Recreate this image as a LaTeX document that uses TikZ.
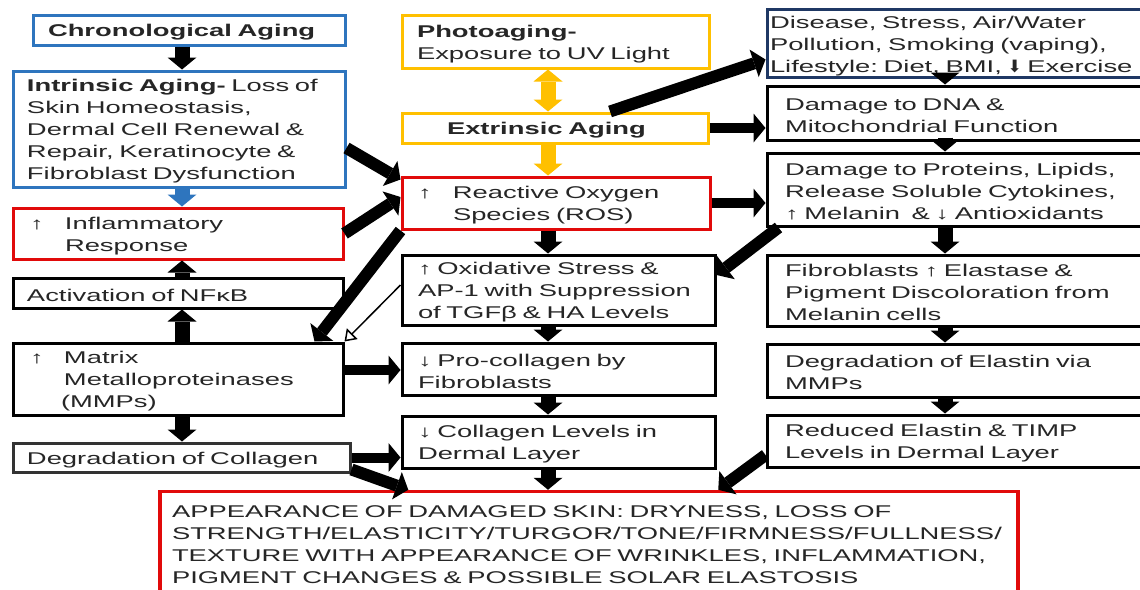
\documentclass[tikz,border=0pt]{standalone}
\usepackage{fontspec}
\setmainfont{Liberation Sans}[FakeStretch=1.61]
\newfontfamily\arrowfont{DejaVu Sans}
\usepackage{tikz}
\usetikzlibrary{arrows.meta, calc}
\frenchspacing

\definecolor{agblue}{RGB}{46,117,190}
\definecolor{aggold}{RGB}{255,192,0}
\definecolor{agred}{RGB}{225,10,10}
\definecolor{agnavy}{RGB}{31,56,100}

\tikzset{
    base/.style={draw=black, line width=3pt, align=left, text=black!85,
        inner ysep=2pt, font=\fontsize{17}{22}\selectfont},
    box/.style={base, execute at begin node={\rule{0pt}{17pt}}},
    >={Triangle[length=12pt, width=29pt, line width=0pt]},
    fat/.style={line width=12pt, ->},
    vfat/.style={line width=15pt, ->},
    hfat/.style={line width=10pt, ->},
    hollow/.style={line width=1.5pt, -{Triangle[open, length=11pt, width=15pt]}}
}

\begin{document}
\begin{tikzpicture}[x=1pt, y=-1pt]
        \path[use as bounding box, fill=white] (0,0) rectangle (1140,589);

        \node[box, draw=agblue, text width=282pt, inner xsep=15pt, minimum height=30pt] at (189, 30) (chrono) {\textbf{Chronological Aging}};
        \node[box, draw=agblue, text width=304pt, inner xsep=14pt, minimum height=116pt] at (179, 129) (intr) {\textbf{Intrinsic Aging-} Loss of\\Skin Homeostasis,\\Dermal Cell Renewal \&\\Repair, Keratinocyte \&\\Fibroblast Dysfunction};
        \node[box, draw=agred, text width=296pt, inner xsep=17pt, minimum height=51pt] at (178, 233.5) (infl) {\makebox[35pt][l]{↑}Inflammatory\\\hspace*{35pt}Response};
        \node[box, text width=302pt, inner xsep=14pt, minimum height=30pt] at (178, 293) (nfkb) {Activation of NFκB};
        \node[box, text width=296pt, inner xsep=17pt, minimum height=72pt] at (178, 379) (mmp) {\makebox[34pt][l]{↑}Matrix\\\hspace*{34pt}Metalloproteinases\\\hspace*{31pt}(MMPs)};
        \node[box, draw=black!80, text width=309pt, inner xsep=14pt, minimum height=29pt] at (181.5, 457.5) (degc) {Degradation of Collagen};

        \node[box, draw=aggold, text width=277pt, inner xsep=15pt, minimum height=53pt] at (555.5, 41.5) (photo) {\textbf{Photoaging-}\\Exposure to UV Light};
        \node[box, draw=aggold, text width=276pt, inner xsep=15pt, minimum height=30pt] at (555, 128) (extr) {\hspace*{30pt}\textbf{Extrinsic Aging}};
        \node[box, draw=agred, text width=276pt, inner xsep=16pt, minimum height=52pt] at (556, 203) (ros) {\makebox[35pt][l]{↑}Reactive Oxygen\\\hspace*{35pt}Species (ROS)};
        \node[box, text width=281pt, inner xsep=16pt, minimum height=70pt] at (558.5, 290) (oxi) {↑ Oxidative Stress \&\\AP-1 with Suppression\\of TGFβ \& HA Levels};
        \node[box, text width=281pt, inner xsep=16pt, minimum height=52pt] at (558.5, 369) (proc) {↓ Pro-collagen by\\Fibroblasts};
        \node[box, text width=281pt, inner xsep=16pt, minimum height=52pt] at (558.5, 442) (coll) {↓ Collagen Levels in\\Dermal Layer};

        \node[box, draw=agnavy, text width=427pt, inner xsep=3pt, minimum height=65pt] at (983.5, 43.5) (dis) {Disease, Stress, Air/Water\\Pollution, Smoking (vaping),\\Lifestyle: Diet, BMI, {\arrowfont ⬇} Exercise};
        \node[box, text width=377pt, inner xsep=18pt, minimum height=54pt] at (973.5, 113) (dna) {Damage to DNA \&\\Mitochondrial Function};
        \node[box, text width=377pt, inner xsep=18pt, minimum height=73pt] at (973.5, 189.5) (prot) {Damage to Proteins, Lipids,\\Release Soluble Cytokines,\\↑ Melanin \ \& ↓ Antioxidants};
        \node[box, text width=377pt, inner xsep=18pt, minimum height=71pt] at (973.5, 290.5) (fib) {Fibroblasts ↑ Elastase \&\\Pigment Discoloration from\\Melanin cells};
        \node[box, text width=377pt, inner xsep=18pt, minimum height=53pt] at (973.5, 370.5) (elas) {Degradation of Elastin via\\MMPs};
        \node[box, text width=377pt, inner xsep=18pt, minimum height=52pt] at (973.5, 441) (red) {Reduced Elastin \& TIMP\\Levels in Dermal Layer};

        \node[base, draw=agred, line width=3.5pt, text width=834pt, inner xsep=12pt, minimum height=107pt] at (589, 545) (app) {APPEARANCE OF DAMAGED SKIN: DRYNESS, LOSS OF\\STRENGTH/ELASTICITY/TURGOR/TONE/FIRMNESS/FULLNESS/\\TEXTURE WITH APPEARANCE OF WRINKLES, INFLAMMATION,\\PIGMENT CHANGES \& POSSIBLE SOLAR ELASTOSIS};

        \coordinate (lx) at (182, 0);
        \coordinate (mx) at (548, 0);
        \coordinate (rx) at (945, 0);

        \draw[vfat] (chrono.south -| lx) -- (intr.north -| lx);
        \draw[vfat, agblue] (intr.south -| lx) -- (infl.north -| lx);
        \draw[vfat] (nfkb.north -| lx) -- (infl.south -| lx);
        \draw[vfat] (mmp.north -| lx) -- (nfkb.south -| lx);
        \draw[vfat] (mmp.south -| lx) -- (degc.north -| lx);

        \draw[fat] ([yshift=-19pt]intr.east) -- ([yshift=-4pt]ros.north west);
        \draw[fat] (infl.east) -- ([yshift=6pt]ros.west);
        \draw[fat] (ros.south west) -- ([xshift=-30pt]mmp.north east);
        \draw[hollow] ([yshift=5pt]oxi.west) -- (mmp.north east);
        \draw[hfat] ([yshift=9pt]mmp.east) -- ([yshift=9pt]mmp.east -| proc.west);
        \draw[hfat] (degc.east) -- (degc.east -| coll.west);
        \draw[fat] ([yshift=-12pt]degc.east) -- ([xshift=250pt]app.north west);

        \draw[vfat, aggold, <->] (photo.south -| mx) -- (extr.north -| mx);
        \draw[vfat, aggold] (extr.south -| mx) -- (ros.north -| mx);
        \draw[vfat] (ros.south -| mx) -- (oxi.north -| mx);
        \draw[vfat] (oxi.south -| mx) -- (proc.north -| mx);
        \draw[vfat] (proc.south -| mx) -- (coll.north -| mx);
        \draw[vfat] (coll.south -| mx) -- (app.north -| mx);

        \draw[fat] ([xshift=55pt]extr.north) -- ([yshift=-16pt]dis.west);
        \draw[hfat] (extr.east) -- (extr.east -| dna.west);
        \draw[hfat] (ros.east) -- (ros.east -| prot.west);
        \draw[fat] ([xshift=13pt]prot.south west) -- ([yshift=15pt]oxi.east);
        \draw[fat] ([yshift=-14pt]red.west) -- ([xshift=560pt]app.north west);

        \draw[vfat] ([yshift=6pt]dis.south -| rx) -- (dna.north -| rx);
        \draw[vfat] ([yshift=4pt]dna.south -| rx) -- (prot.north -| rx);
        \draw[vfat] (prot.south -| rx) -- (fib.north -| rx);
        \draw[vfat] (fib.south -| rx) -- (elas.north -| rx);
        \draw[vfat] (elas.south -| rx) -- (red.north -| rx);
    \end{tikzpicture}
\end{document}
